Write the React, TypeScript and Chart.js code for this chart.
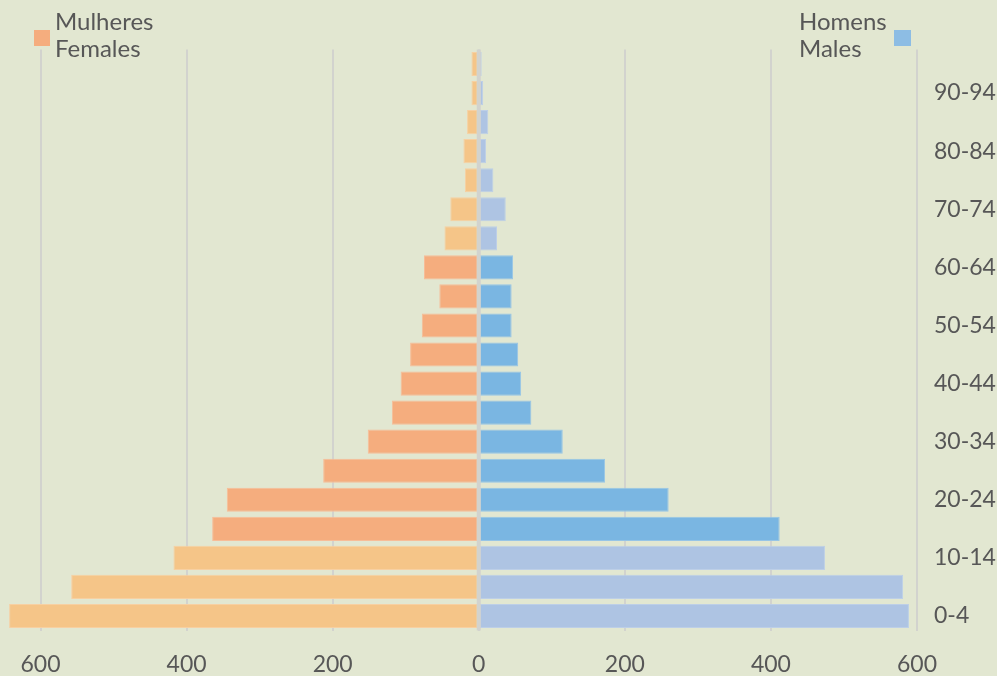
import React, { useEffect, useRef } from "react";
import { Chart, registerables } from "chart.js";

Chart.register(...registerables);

// Age groups, youngest first
const ageGroups = [
  "0-4", "5-9", "10-14", "15-19", "20-24", "25-29", "30-34", "35-39", "40-44", "45-49",
  "50-54", "55-59", "60-64", "65-69", "70-74", "75-79", "80-84", "85-89", "90-94", "95-99",
];

// Population by age group
const females = [643, 558, 418, 365, 345, 213, 152, 119, 107, 94, 78, 54, 75, 47, 39, 19, 21, 16, 10, 10];
const males = [589, 581, 474, 412, 260, 173, 115, 72, 58, 54, 45, 45, 47, 25, 37, 20, 10, 13, 6, 4];

const xTicks = [-600, -400, -200, 0, 200, 400, 600];

const BG = "#E2E7D1";
const GRID = "#D2D3CE";
const TEXT = "#575757";
const FONT = "Lato, 'Noto Sans', sans-serif";

const FEMALE_DARK = "#F5AD7E";
const FEMALE_LIGHT = "#F5C588";
const MALE_DARK = "#7AB6E2";
const MALE_LIGHT = "#AEC4E3";

// Children (0-14) and the elderly (65+) get the lighter shade
const isDependent = (i: number) => i <= 2 || i >= 13;

const zeroLine = {
  id: "zeroLine",
  afterDatasetsDraw(chart: any) {
    const { ctx, chartArea, scales } = chart;
    const x = scales.x.getPixelForValue(0);
    ctx.save();
    ctx.strokeStyle = GRID;
    ctx.lineWidth = 4;
    ctx.beginPath();
    ctx.moveTo(x, chartArea.top);
    ctx.lineTo(x, chartArea.bottom);
    ctx.stroke();
    ctx.restore();
  },
};

export default function App() {
  const canvasRef = useRef<HTMLCanvasElement>(null);

  useEffect(() => {
    if (!canvasRef.current) return;
    const chart = new Chart(canvasRef.current, {
      type: "bar",
      data: {
        labels: ageGroups,
        datasets: [
          {
            label: "Mulheres Females",
            data: females.map((v) => -v),
            backgroundColor: (c: any) => (isDependent(c.dataIndex) ? FEMALE_LIGHT : FEMALE_DARK),
            borderColor: (c: any) => (isDependent(c.dataIndex) ? "#F7D0A2" : "#F7BD98"),
            borderWidth: 1,
            borderSkipped: false,
            barPercentage: 0.83,
            categoryPercentage: 1,
          },
          {
            label: "Homens Males",
            data: males,
            backgroundColor: (c: any) => (isDependent(c.dataIndex) ? MALE_LIGHT : MALE_DARK),
            borderColor: (c: any) => (isDependent(c.dataIndex) ? "#BDCFE7" : "#97C5E6"),
            borderWidth: 1,
            borderSkipped: false,
            barPercentage: 0.83,
            categoryPercentage: 1,
          },
        ],
      },
      options: {
        indexAxis: "y",
        responsive: false,
        animation: false,
        layout: { padding: { top: 49.5, left: 4, right: 0, bottom: 0 } },
        plugins: { legend: { display: false }, tooltip: { enabled: false } },
        scales: {
          x: {
            stacked: true,
            min: -650,
            max: 600,
            afterBuildTicks: (scale: any) => {
              scale.ticks = xTicks.map((v) => ({ value: v }));
            },
            afterFit: (scale: any) => {
              scale.height = 45.5;
            },
            grid: { color: GRID, lineWidth: 2, drawTicks: false },
            border: { display: false },
            ticks: {
              color: TEXT,
              font: { family: FONT, size: 23 },
              padding: 20,
              callback: (v: any) => String(Math.abs(Number(v))),
            },
          },
          y: {
            stacked: true,
            reverse: true,
            position: "right",
            afterFit: (scale: any) => {
              scale.width = 80;
            },
            grid: { display: false, drawTicks: false },
            border: { display: false },
            ticks: {
              color: TEXT,
              autoSkip: false,
              font: { family: FONT, size: 23 },
              padding: 17,
              callback: (_v: any, i: number) => (i % 2 === 0 ? ageGroups[i] : ""),
            },
          },
        },
      },
      plugins: [zeroLine],
    } as any);
    return () => chart.destroy();
  }, []);

  const legendText: React.CSSProperties = {
    position: "absolute",
    fontFamily: FONT,
    fontSize: 24,
    lineHeight: "27px",
    color: TEXT,
    whiteSpace: "nowrap",
  };

  return (
    <div style={{ position: "fixed", left: 0, top: 0, width: 997, height: 676, background: BG, overflow: "hidden" }}>
      <canvas ref={canvasRef} width={997} height={676} style={{ display: "block" }} />
      <div style={{ position: "absolute", left: 34, top: 30, width: 16, height: 16, background: FEMALE_DARK }} />
      <div style={{ ...legendText, left: 55, top: 7 }}>
        Mulheres
        <br />
        Females
      </div>
      <div style={{ ...legendText, left: 799, top: 7 }}>
        Homens
        <br />
        Males
      </div>
      <div style={{ position: "absolute", left: 894, top: 30, width: 17, height: 16, background: "#8DBDE4" }} />
    </div>
  );
}
